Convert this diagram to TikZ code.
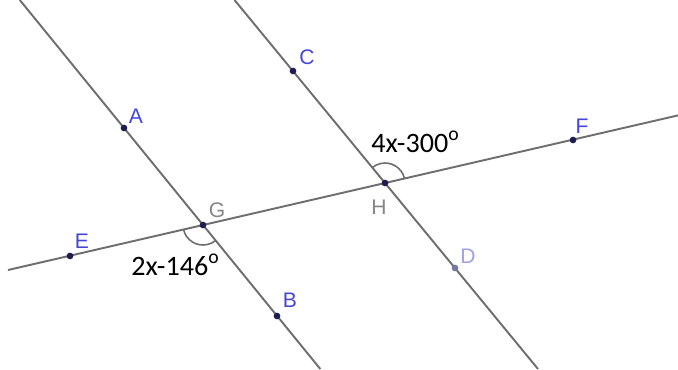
\documentclass[tikz,border=0pt]{standalone}
\usepackage{fontspec}
\setmainfont{Carlito}
\newfontfamily\ggbfont{Liberation Sans}
\usetikzlibrary{positioning}
\definecolor{geoLine}{HTML}{6e6e6e}
\definecolor{geoPt}{HTML}{1c1c50}
\definecolor{geoBlue}{HTML}{4646d6}
\definecolor{geoPale}{HTML}{a2a2e2}
\definecolor{geoDim}{HTML}{7676a6}
\definecolor{geoGrey}{HTML}{858585}
\tikzset{
  ln/.style={draw=geoLine, line width=1.1pt},
  angarc/.style={draw=geoLine, line width=0.9pt},
  pt/.style={circle, fill=geoPt, inner sep=0pt, minimum size=3.8pt},
  ptlbl/.style={font=\ggbfont\fontsize{12}{14}\selectfont, text=geoBlue, inner sep=0pt},
  anglbl/.style={font=\fontsize{16}{19}\selectfont, text=black, inner sep=0pt, anchor=base west},
}

\begin{document}
\begin{tikzpicture}[x=0.02cm, y=0.02cm]
  \useasboundingbox (0,0) rectangle (678,-369);
  % ends of the three lines
  \coordinate (ef0) at (8,-270);
  \coordinate (ef1) at (678,-115.4);
  \coordinate (ab0) at (19.8,0);
  \coordinate (ab1) at (320.3,-369);
  \coordinate (cd0) at (234.5,0);
  \coordinate (cd1) at (538,-369);
  \draw[ln] (ef0) -- (ef1);
  \draw[ln] (ab0) -- (ab1);
  \draw[ln] (cd0) -- (cd1);
  % angle arcs
  \draw[angarc] ([shift={(193:0.4cm)}]203,-225) arc[start angle=193, end angle=309, radius=0.4cm];
  \draw[angarc] ([shift={(13:0.4cm)}]385,-183) arc[start angle=13, end angle=129.4, radius=0.4cm];
  % points
  \foreach \n/\x/\y in {A/124/-128,B/277/-316,C/293/-71,E/70/-256,F/573/-140,G/203/-225,H/385/-183}{
    \node[pt] (\n) at (\x,\y){};
  }
  \node[pt,fill=geoDim] (D) at (455,-268){};
  % labels
  \node[ptlbl] (lA) at (136,-116){A};
  \node[ptlbl] (lB) at (290,-300){B};
  \node[ptlbl] (lC) at (307,-57){C};
  \node[ptlbl,text=geoPale] (lD) at (468,-256){D};
  \node[ptlbl] (lE) at (82,-241){E};
  \node[ptlbl] (lF) at (582,-126){F};
  \node[ptlbl,text=geoGrey] (lG) at (217,-210){G};
  \node[ptlbl,text=geoGrey] (lH) at (379,-207){H};
  \node[anglbl] (aH) at (371,-152){4x-300\textsuperscript{o}};
  \node[anglbl] (aG) at (131,-275){2x-146\textsuperscript{o}};
\end{tikzpicture}
\end{document}
